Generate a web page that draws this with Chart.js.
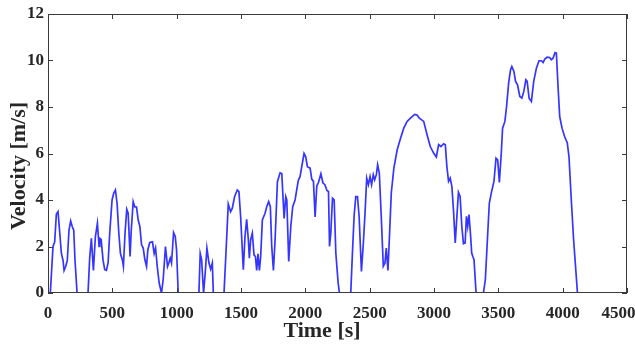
<!DOCTYPE html>
<html>
<head>
<meta charset="utf-8">
<script src="https://cdn.jsdelivr.net/npm/chart.js@4/dist/chart.umd.min.js"></script>
<style>
  body { margin: 0; background: #fff; }
  #wrap { width: 635px; height: 345px; }
</style>
</head>
<body>
<div id="wrap"><canvas id="myChart" width="635" height="345"></canvas></div>
<script>
// time [s] and velocity [m/s]
var timeS = [0, 18, 39, 52, 65, 78, 91, 104, 117, 125, 138, 150, 163, 176, 189, 200, 210, 226,
  311, 324, 337, 353, 368, 384, 397, 402, 413, 428, 441, 454, 467, 480, 498, 511, 524, 537, 550,
  563, 579, 586, 599, 612, 623, 638, 646, 662, 675, 688, 701, 714, 727, 740, 753, 766, 776, 791,
  812, 825, 836, 849, 864, 882, 895, 913, 929, 939, 950, 960, 976, 989, 999, 1012,
  1173, 1183, 1194, 1209, 1222, 1235, 1251, 1264, 1277, 1285,
  1368, 1388, 1401, 1419, 1432, 1450, 1471, 1484, 1497, 1518, 1531, 1544, 1557, 1565, 1575, 1588,
  1601, 1612, 1622, 1632, 1643, 1653, 1666, 1687, 1700, 1715, 1728, 1739, 1752, 1765, 1783, 1804,
  1817, 1835, 1848, 1856, 1871, 1887, 1902, 1920, 1933, 1946, 1959, 1972, 1990, 2003, 2016, 2037,
  2050, 2063, 2076, 2089, 2102, 2121, 2137, 2152, 2168, 2180, 2188, 2198, 2211, 2224, 2237, 2255, 2265,
  2353, 2366, 2379, 2392, 2405, 2418, 2436, 2451, 2464, 2477, 2490, 2503, 2515, 2528, 2539, 2552,
  2562, 2575, 2590, 2606, 2619, 2629, 2642, 2655, 2668, 2688, 2714, 2740, 2765, 2791, 2817, 2850,
  2868, 2886, 2920, 2946, 2971, 2997, 3018, 3036, 3054, 3075, 3088, 3100, 3113, 3126, 3139, 3152,
  3165, 3178, 3190, 3203, 3216, 3229, 3242, 3252, 3262, 3272, 3283, 3293, 3301, 3311, 3327,
  3384, 3399, 3415, 3430, 3448, 3466, 3482, 3495, 3508, 3523, 3533, 3551, 3564, 3580, 3595, 3605,
  3621, 3634, 3649, 3667, 3683, 3698, 3714, 3724, 3739, 3757, 3775, 3796, 3816, 3835, 3848, 3861,
  3879, 3899, 3912, 3925, 3941, 3951, 3964, 3977, 3995, 4015, 4036, 4049, 4067, 4085, 4100, 4115];
var velocity = [0, 0, 2.0, 2.2, 3.4, 3.5, 2.6, 1.7, 1.4, 0.97, 1.15, 1.4, 2.7, 3.1, 2.85, 2.7, 1.4, 0,
  0, 1.5, 2.35, 0.97, 2.4, 3.0, 2.0, 2.35, 2.3, 1.4, 1.0, 0.97, 1.3, 2.6, 4.0, 4.3, 4.43, 3.85, 2.6,
  1.7, 1.4, 1.15, 2.6, 3.6, 3.43, 1.57, 2.6, 3.93, 3.7, 3.7, 3.14, 2.86, 2.07, 1.93, 1.43, 1.14, 1.86, 2.17,
  2.2, 1.7, 1.93, 1.14, 0.43, 0, 0.57, 2.0, 1.14, 1.29, 1.5, 1.29, 2.6, 2.43, 1.86, 0,
  0, 1.7, 1.43, 0, 0.86, 1.93, 1.29, 1.03, 1.29, 0,
  0, 2.29, 3.83, 3.5, 3.64, 4.14, 4.43, 4.36, 3.3, 1.0, 2.43, 3.17, 2.29, 1.5, 2.29, 2.57,
  1.64, 1.57, 0.97, 1.69, 0.97, 1.57, 3.14, 3.43, 3.71, 3.93, 3.71, 2.0, 0.97, 2.29, 4.79, 5.17,
  5.14, 3.21, 4.14, 4.0, 1.36, 2.86, 3.71, 4.0, 4.43, 4.86, 5.0, 5.43, 6.0, 5.86, 5.43, 5.37,
  4.9, 4.8, 3.27, 4.6, 4.75, 5.13, 4.73, 4.66, 4.41, 4.37, 2.0, 2.58, 4.08, 4.01, 1.72, 0.43, 0,
  0, 1.72, 3.3, 4.15, 4.15, 3.3, 0.93, 2.15, 3.44, 4.94, 4.66, 5.01, 4.66, 5.09, 4.87, 5.09,
  5.52, 5.16, 3.3, 1.15, 1.29, 1.93, 0.97, 2.58, 4.3, 5.37, 6.16, 6.66, 7.09, 7.38, 7.52, 7.68,
  7.66, 7.52, 7.38, 6.81, 6.3, 6.02, 5.85, 6.38, 6.3, 6.42, 6.38, 5.44, 4.8, 4.94, 4.58, 3.51,
  2.15, 3.3, 4.33, 4.15, 2.87, 2.12, 2.15, 3.3, 2.87, 3.37, 2.58, 1.72, 1.58, 1.43, 0,
  0, 0.57, 2.29, 3.87, 4.37, 4.8, 5.8, 5.73, 4.76, 6.02, 7.09, 7.38, 8.02, 9.03, 9.6, 9.74,
  9.53, 9.1, 8.95, 8.45, 8.38, 8.67, 9.17, 9.1, 8.38, 8.24, 9.1, 9.67, 9.99, 9.99, 9.91, 10.06,
  10.14, 10.13, 10.03, 10.1, 10.34, 10.32, 8.88, 7.59, 7.09, 6.73, 6.45, 5.87, 4.01, 2.29, 1.15, 0];

var xTicks = [0, 500, 1000, 1500, 2000, 2500, 3000, 3500, 4000, 4500];
var yTicks = [0, 2, 4, 6, 8, 10, 12];
var xTitle = 'Time [s]';
var yTitle = 'Velocity [m/s]';

var points = timeS.map(function (t, i) { return { x: t, y: velocity[i] }; });

var axisColor = '#262626';
var tickFont = { family: 'Liberation Serif', size: 17, weight: 'bold' };

// frame, inward ticks and axis titles like the matlab figure
var framePlugin = {
    id: 'frame',
    afterDraw: function (chart) {
        var c = chart.ctx;
        var a = chart.chartArea;
        var xs = chart.scales.x, ys = chart.scales.y;
        var L = Math.round(a.left), R = Math.round(a.right);
        var T = Math.round(a.top), B = Math.round(a.bottom);
        c.save();
        c.fillStyle = '#3a3a3a';
        c.fillRect(L, T, R - L, 1);
        c.fillRect(L, B - 1, R - L, 1);
        c.fillRect(L, T, 1, B - T);
        c.fillRect(R - 1, T, 1, B - T);
        xTicks.forEach(function (v) {
            var px = Math.round(xs.getPixelForValue(v));
            c.fillRect(px, B - 5, 1, 5);
            c.fillRect(px, T, 1, 5);
        });
        yTicks.forEach(function (v) {
            var py = Math.round(ys.getPixelForValue(v));
            c.fillRect(L, py, 5, 1);
            c.fillRect(R - 5, py, 5, 1);
        });

        c.fillStyle = axisColor;
        c.font = 'bold 22px "Liberation Serif"';
        c.textAlign = 'center';
        c.textBaseline = 'middle';
        c.fillText(xTitle, 322, 331);
        c.translate(19, 166);
        c.rotate(-Math.PI / 2);
        c.fillText(yTitle, 0, 0);
        c.restore();
    }
};

var ctx = document.getElementById('myChart').getContext('2d');
var chart = new Chart(ctx, {
    type: 'line',
    data: {
        datasets: [{
            data: points,
            borderColor: '#3535ff',
            borderWidth: 1.7,
            pointRadius: 0,
            fill: false,
            tension: 0
        }]
    },
    options: {
        responsive: false,
        animation: false,
        layout: { padding: { top: 14, right: 8, left: 0, bottom: 0 } },
        plugins: { legend: { display: false }, tooltip: { enabled: false } },
        scales: {
            x: {
                type: 'linear',
                min: 0, max: 4500,
                afterFit: function (s) { s.height = 52; s.paddingLeft = 0; s.paddingRight = 0; },
                afterBuildTicks: function (s) { s.ticks = xTicks.map(function (v) { return { value: v }; }); },
                grid: { display: false, drawTicks: false },
                border: { display: false },
                ticks: {
                    color: axisColor, font: tickFont, padding: 10, maxRotation: 0, autoSkip: false,
                    callback: function (v) { return v === 4500 ? '4500\u2002\u2002' : String(v); }
                }
            },
            y: {
                min: 0, max: 12,
                afterFit: function (s) { s.width = 48; s.paddingTop = 0; s.paddingBottom = 0; },
                afterBuildTicks: function (s) { s.ticks = yTicks.map(function (v) { return { value: v }; }); },
                grid: { display: false, drawTicks: false },
                border: { display: false },
                ticks: {
                    color: axisColor, font: tickFont, padding: 4,
                    callback: function (v) { return String(v); }
                }
            }
        }
    },
    plugins: [framePlugin]
});
</script>
</body>
</html>
